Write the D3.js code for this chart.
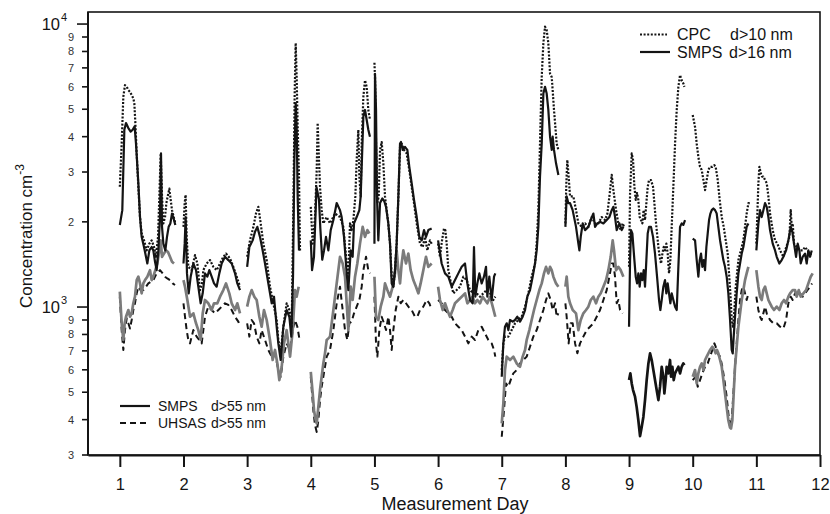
<!DOCTYPE html>
<html>
<head>
<meta charset="utf-8">
<script src="https://cdn.jsdelivr.net/npm/d3@7"></script>
<style>
  body { margin: 0; background: #fff; }
  svg { display: block; font-family: "Liberation Sans", Arial, Helvetica, sans-serif; }
</style>
</head>
<body>
<svg id="chart" width="830" height="514"></svg>
<script>
// Particle number concentration (cm^-3) against measurement day.
// Each entry is [day, concentration]; a new day starts a new line segment.

const cpc10 = [
  [1.000,2660],[1.029,3780],[1.055,5540],[1.081,6080],[1.108,6000],[1.134,5840],[1.160,5760],[1.186,5610],[1.212,5460],[1.228,5250],[1.244,4470],[1.265,3490],[1.291,2660],[1.317,2080],[1.343,1820],[1.380,1720],[1.422,1585],[1.464,1675],[1.500,1720],[1.537,1630],[1.568,1505],[1.600,1770],[1.621,2460],[1.642,3490],[1.663,2460],[1.684,1975],[1.710,2080],[1.731,2330],[1.752,2460],[1.778,2620],[1.799,2390],[1.820,2200],[1.846,2080],[1.872,1975],
  [2.000,1920],[2.019,2330],[2.034,2490],[2.050,1770],[2.076,1387],[2.129,1350],[2.181,1525],[2.218,1425],[2.260,1148],[2.291,1212],[2.312,1350],[2.364,1425],[2.417,1465],[2.469,1387],[2.521,1350],[2.574,1425],[2.626,1505],[2.668,1545],[2.731,1485],[2.783,1387],[2.836,1280],[2.888,1180],
  [3.000,1505],[3.045,1720],[3.098,1920],[3.139,2140],[3.176,2260],[3.213,1975],[3.255,1675],[3.307,1465],[3.359,1180],[3.412,1031],[3.464,900],[3.490,765],[3.527,686],[3.569,852],[3.621,1031],[3.663,976],[3.700,852],[3.726,2200],[3.747,5680],[3.763,8560],[3.778,6500],[3.794,4350],[3.815,2890],[3.831,1585],
  [4.000,2260],[4.030,1675],[4.066,2080],[4.093,3050],[4.108,4470],[4.129,3310],[4.145,2660],[4.171,2200],[4.197,1975],[4.250,2080],[4.302,1975],[4.381,2140],[4.459,2080],[4.511,1920],[4.564,1425],[4.590,1280],[4.616,1975],[4.642,1870],[4.669,2030],[4.700,2460],[4.721,3310],[4.747,4230],[4.763,2890],[4.784,2460],[4.800,3780],[4.826,5540],[4.852,6330],[4.878,6000],[4.904,4970],[4.930,4590],
  [5.000,7300],[5.009,6500],[5.025,3780],[5.046,2330],[5.067,2460],[5.088,3590],[5.114,3830],[5.140,3220],[5.166,2460],[5.192,2200],[5.218,1975],[5.245,1675],[5.271,1280],[5.297,1180],[5.323,1350],[5.349,1675],[5.376,2460],[5.402,3680],[5.428,3780],[5.465,3590],[5.506,3490],[5.548,3050],[5.585,2660],[5.622,2330],[5.664,1975],[5.716,1675],[5.758,1630],[5.794,1770],[5.831,1585],[5.873,1720],[5.899,1675],
  [6.000,1675],[6.030,1505],[6.062,1720],[6.093,1895],[6.114,1870],[6.135,1675],[6.161,1350],[6.214,1180],[6.240,1118],[6.292,1148],[6.344,1180],[6.397,1280],[6.449,1245],[6.502,1148],[6.554,1118],[6.606,1118],[6.659,1088],[6.711,1118],[6.763,1148],[6.816,1118],[6.868,1059],[6.899,1088],
  [7.000,599],[7.025,744],[7.051,786],[7.104,786],[7.156,829],[7.209,876],[7.261,900],[7.313,924],[7.366,1003],[7.418,1118],[7.470,1280],[7.523,1425],[7.549,1675],[7.575,2200],[7.601,3780],[7.628,6500],[7.654,8560],[7.680,9790],[7.706,9520],[7.732,8560],[7.759,6670],[7.785,6500],[7.800,5840],[7.821,4970],[7.842,4350],[7.863,3780],[7.890,3590],
  [8.000,1975],[8.015,2740],[8.030,3310],[8.051,2890],[8.073,2460],[8.125,2460],[8.167,2200],[8.204,1975],[8.256,1920],[8.309,1975],[8.361,1920],[8.413,2080],[8.466,1975],[8.518,1975],[8.570,2080],[8.623,2030],[8.660,2140],[8.691,2460],[8.728,2930],[8.754,2590],[8.796,2200],[8.832,1975],[8.869,1870],[8.900,1975],[8.921,1920],
  [9.000,1387],[9.016,2530],[9.042,3490],[9.063,3310],[9.084,2660],[9.105,2390],[9.126,2530],[9.146,2390],[9.167,2080],[9.188,2030],[9.209,1975],[9.230,2200],[9.251,2030],[9.272,2330],[9.293,2660],[9.314,2810],[9.345,2810],[9.377,2660],[9.398,2330],[9.419,2030],[9.440,1820],[9.461,1630],[9.482,1505],[9.503,1425],[9.524,1545],[9.545,1630],[9.565,1585],[9.586,1675],[9.607,1545],[9.628,1315],[9.649,1465],[9.670,1920],[9.696,2660],[9.723,3780],[9.749,4970],[9.775,6000],[9.801,6600],[9.827,6330],[9.853,6170],[9.869,6000],
  [10.000,4770],[10.037,4330],[10.063,3780],[10.089,3390],[10.115,3130],[10.142,3050],[10.168,2810],[10.194,2590],[10.220,2810],[10.246,3050],[10.272,3130],[10.309,3130],[10.341,3170],[10.361,3130],[10.393,2810],[10.424,2390],[10.456,2080],[10.487,1920],[10.519,1720],[10.550,1545],[10.571,1315],[10.592,1118],[10.613,900],[10.634,852],[10.655,976],[10.676,1180],[10.697,1315],[10.718,1465],[10.744,1545],[10.770,1630],[10.796,1720],[10.822,1920],[10.848,2140],[10.875,2330],[10.901,2330],
  [11.000,1675],[11.032,2740],[11.048,3130],[11.069,2970],[11.090,2890],[11.110,2890],[11.137,2810],[11.163,2740],[11.189,2460],[11.215,2140],[11.257,1870],[11.294,1720],[11.330,1675],[11.372,1585],[11.425,1505],[11.451,1585],[11.488,1675],[11.519,1770],[11.540,2200],[11.556,1920],[11.571,1975],[11.592,1675],[11.634,1630],[11.687,1585],[11.728,1585],[11.765,1630],[11.802,1585],[11.844,1545],[11.870,1505]
];

const smps16 = [
  [1.000,1950],[1.039,2200],[1.071,4230],[1.097,4470],[1.134,4290],[1.170,4170],[1.202,4230],[1.233,4350],[1.254,3780],[1.291,2740],[1.317,2080],[1.343,1770],[1.380,1630],[1.411,1505],[1.432,1425],[1.464,1585],[1.500,1630],[1.526,1585],[1.553,1445],[1.579,1350],[1.605,1585],[1.631,2080],[1.647,3490],[1.663,1920],[1.684,1675],[1.715,1585],[1.741,1770],[1.767,1920],[1.794,1975],[1.820,2140],[1.846,2050],[1.872,1950],
  [2.000,1425],[2.019,1675],[2.034,2080],[2.055,1315],[2.082,1118],[2.113,1280],[2.155,1425],[2.197,1350],[2.233,1180],[2.270,1031],[2.302,1118],[2.338,1315],[2.375,1280],[2.406,1350],[2.443,1280],[2.480,1212],[2.521,1180],[2.563,1315],[2.600,1425],[2.652,1505],[2.705,1465],[2.757,1425],[2.810,1315],[2.846,1212],[2.888,1148],
  [3.000,1387],[3.035,1630],[3.087,1720],[3.124,1845],[3.160,1920],[3.202,1770],[3.244,1585],[3.281,1425],[3.333,1212],[3.386,1031],[3.422,1088],[3.464,852],[3.490,744],[3.527,650],[3.569,852],[3.621,976],[3.663,924],[3.694,786],[3.721,1280],[3.742,3310],[3.763,5250],[3.778,4350],[3.794,2460],[3.815,1585],
  [4.000,1720],[4.020,1350],[4.050,1500],[4.090,2650],[4.129,2400],[4.150,1900],[4.180,1470],[4.208,1585],[4.239,1770],[4.276,1585],[4.313,1870],[4.355,2030],[4.407,2330],[4.459,2200],[4.485,2080],[4.522,1770],[4.564,1315],[4.590,1148],[4.627,1585],[4.658,1505],[4.679,1975],[4.721,2080],[4.763,2200],[4.784,2460],[4.805,3390],[4.826,4710],[4.852,4970],[4.878,4590],[4.904,4230],[4.930,4000],
  [5.000,1675],[5.009,6670],[5.025,4970],[5.040,2460],[5.061,1720],[5.088,2330],[5.124,2420],[5.156,2360],[5.182,2260],[5.218,1975],[5.245,1675],[5.271,1212],[5.297,1180],[5.323,1350],[5.349,1675],[5.376,2460],[5.402,3780],[5.417,3830],[5.444,3590],[5.480,3680],[5.517,3590],[5.548,3130],[5.585,2740],[5.622,2390],[5.664,2080],[5.705,1770],[5.742,1720],[5.779,1870],[5.810,1770],[5.847,1870],[5.899,1895],
  [6.000,1720],[6.056,1425],[6.109,1315],[6.161,1280],[6.214,1180],[6.266,1245],[6.318,1315],[6.371,1387],[6.423,1425],[6.460,1212],[6.502,1059],[6.543,1031],[6.564,1630],[6.585,1088],[6.617,1212],[6.648,1315],[6.685,1212],[6.721,1280],[6.753,1387],[6.774,1088],[6.805,1280],[6.842,1059],[6.879,1280],[6.899,1315],
  [7.000,567],[7.025,744],[7.051,852],[7.078,876],[7.104,829],[7.130,900],[7.172,888],[7.209,900],[7.245,924],[7.287,888],[7.329,924],[7.366,976],[7.402,1088],[7.444,1148],[7.486,1280],[7.523,1425],[7.549,1585],[7.575,1920],[7.601,2890],[7.628,3780],[7.654,5680],[7.680,6000],[7.706,5680],[7.732,4970],[7.759,4000],[7.785,3590],[7.800,4000],[7.821,3590],[7.853,3220],[7.890,2930],
  [8.000,1920],[8.020,2460],[8.046,2330],[8.073,2330],[8.114,2200],[8.167,1920],[8.204,1675],[8.220,1585],[8.241,1770],[8.272,1975],[8.309,1870],[8.361,1920],[8.398,2030],[8.440,2140],[8.466,1920],[8.502,1975],[8.544,2000],[8.597,1975],[8.649,2030],[8.691,2080],[8.728,2200],[8.754,2260],[8.780,2080],[8.806,1870],[8.848,1975],[8.885,1870],[8.911,1920],
  [9.000,852],[9.016,1465],[9.031,1870],[9.052,1820],[9.084,1465],[9.105,1280],[9.126,1212],[9.146,1315],[9.167,1180],[9.188,1315],[9.209,1245],[9.230,1350],[9.251,1180],[9.272,1465],[9.293,1820],[9.314,1920],[9.345,1920],[9.377,1770],[9.408,1545],[9.440,1280],[9.471,1059],[9.492,976],[9.513,1059],[9.539,1180],[9.565,1245],[9.586,1118],[9.607,1212],[9.628,1118],[9.649,1031],[9.670,1118],[9.696,1059],[9.723,1003],[9.749,976],[9.775,1387],[9.801,1920],[9.827,1975],[9.853,1950],[9.880,2030],
  [10.000,1745],[10.037,1720],[10.063,1465],[10.089,1280],[10.110,1465],[10.131,1545],[10.152,1387],[10.173,1465],[10.194,1350],[10.215,1630],[10.236,1820],[10.257,2030],[10.278,2140],[10.299,2200],[10.325,2230],[10.351,2200],[10.377,2140],[10.403,1920],[10.430,1720],[10.456,1585],[10.482,1465],[10.508,1387],[10.534,1280],[10.560,1118],[10.587,900],[10.613,705],[10.629,686],[10.644,786],[10.665,924],[10.691,1118],[10.718,1315],[10.744,1425],[10.770,1545],[10.796,1630],[10.822,1770],[10.848,1920],[10.875,1975],
  [11.000,1585],[11.032,1975],[11.058,2200],[11.084,2080],[11.110,2200],[11.137,2330],[11.163,2260],[11.189,2080],[11.215,1870],[11.257,1675],[11.294,1585],[11.320,1505],[11.362,1425],[11.398,1465],[11.425,1505],[11.467,1585],[11.503,1720],[11.540,1920],[11.561,1870],[11.592,1675],[11.624,1505],[11.650,1675],[11.676,1585],[11.697,1425],[11.728,1505],[11.765,1545],[11.791,1425],[11.817,1585],[11.844,1505],[11.870,1585]
];

const smps55 = [
  [1.000,1133],[1.029,876],[1.055,765],[1.076,876],[1.097,924],[1.134,976],[1.160,924],[1.186,950],[1.212,1031],[1.238,1088],[1.265,1245],[1.291,1280],[1.317,1212],[1.343,1118],[1.369,1212],[1.396,1245],[1.432,1280],[1.474,1350],[1.500,1245],[1.526,1280],[1.558,1350],[1.589,1425],[1.621,1585],[1.642,1720],[1.663,1505],[1.694,1545],[1.726,1585],[1.757,1565],[1.788,1505],[1.820,1445],[1.851,1425],
  [2.000,1245],[2.024,1180],[2.061,1059],[2.103,924],[2.155,950],[2.197,876],[2.233,829],[2.270,765],[2.302,950],[2.338,1059],[2.390,1031],[2.443,976],[2.480,1031],[2.532,1031],[2.574,1088],[2.626,1148],[2.668,1212],[2.720,1118],[2.757,1031],[2.810,976],[2.846,1031],[2.888,950],
  [3.000,1003],[3.035,1088],[3.071,1148],[3.113,1088],[3.150,1059],[3.192,924],[3.228,852],[3.265,976],[3.307,900],[3.359,765],[3.401,650],[3.438,705],[3.475,632],[3.506,552],[3.543,615],[3.579,744],[3.621,829],[3.674,668],[3.716,829],[3.752,1148],[3.778,1088],[3.810,1180],
  [4.000,590],[4.030,495],[4.051,432],[4.072,403],[4.093,388],[4.119,444],[4.145,509],[4.171,567],[4.197,632],[4.223,686],[4.250,765],[4.276,775],[4.302,786],[4.328,876],[4.355,976],[4.381,1088],[4.407,1212],[4.433,1350],[4.459,1505],[4.501,1425],[4.538,1280],[4.564,1031],[4.590,829],[4.627,1180],[4.658,1059],[4.695,1280],[4.731,1425],[4.773,1675],[4.815,1920],[4.852,1770],[4.889,1870],[4.920,1820],
  [5.000,1280],[5.025,924],[5.061,900],[5.098,1003],[5.140,1088],[5.166,1212],[5.203,1148],[5.245,1088],[5.287,1180],[5.323,1315],[5.349,1585],[5.376,1350],[5.402,1212],[5.428,1425],[5.454,1585],[5.496,1425],[5.533,1545],[5.569,1350],[5.611,1245],[5.653,1180],[5.690,1118],[5.726,1212],[5.768,1350],[5.810,1505],[5.847,1387],[5.899,1425],
  [6.000,1180],[6.030,1059],[6.072,976],[6.109,1031],[6.145,976],[6.187,924],[6.229,976],[6.266,1031],[6.318,1059],[6.371,1088],[6.423,1118],[6.460,1031],[6.502,1059],[6.543,1088],[6.580,1031],[6.617,1059],[6.659,1031],[6.700,1088],[6.737,1059],[6.774,1031],[6.816,1088],[6.858,1003],[6.899,924],
  [7.000,388],[7.025,456],[7.051,599],[7.078,668],[7.130,650],[7.182,668],[7.235,632],[7.287,615],[7.329,668],[7.366,705],[7.392,765],[7.434,829],[7.470,900],[7.507,976],[7.549,1059],[7.591,1148],[7.628,1212],[7.664,1315],[7.696,1387],[7.732,1315],[7.759,1387],[7.785,1350],[7.811,1280],[7.853,1212],[7.890,1180],
  [8.000,1180],[8.020,1280],[8.046,1088],[8.073,1031],[8.115,976],[8.167,950],[8.204,829],[8.241,900],[8.282,950],[8.324,976],[8.361,1003],[8.398,1059],[8.440,1088],[8.481,1031],[8.518,1088],[8.555,1118],[8.597,1180],[8.639,1245],[8.675,1350],[8.712,1505],[8.743,1720],[8.764,1585],[8.796,1350],[8.832,1387],[8.869,1350],[8.911,1280],
  [9.000,552],[9.021,583],[9.042,537],[9.063,509],[9.094,482],[9.120,443],[9.146,398],[9.173,350],[9.199,377],[9.225,409],[9.251,469],[9.277,552],[9.304,632],[9.330,686],[9.356,650],[9.382,599],[9.408,552],[9.434,509],[9.461,469],[9.487,523],[9.513,615],[9.539,567],[9.555,495],[9.576,552],[9.591,615],[9.618,583],[9.644,650],[9.660,567],[9.681,615],[9.702,552],[9.723,583],[9.749,599],[9.775,615],[9.801,583],[9.827,615],[9.853,632],[9.869,623],
  [10.000,567],[10.037,599],[10.063,537],[10.089,583],[10.115,615],[10.142,632],[10.168,599],[10.194,650],[10.220,668],[10.246,686],[10.272,705],[10.309,724],[10.341,705],[10.361,686],[10.382,705],[10.403,686],[10.430,650],[10.456,615],[10.482,552],[10.508,495],[10.534,443],[10.560,398],[10.587,375],[10.602,372],[10.623,398],[10.644,495],[10.665,615],[10.691,724],[10.718,852],[10.744,950],[10.770,1059],[10.796,1148],[10.822,1245],[10.848,1315],[10.875,1387],
  [11.000,1350],[11.032,1180],[11.058,1088],[11.084,1059],[11.110,1148],[11.137,1180],[11.163,1118],[11.189,1059],[11.215,1031],[11.241,1003],[11.278,976],[11.320,1003],[11.362,976],[11.398,1031],[11.435,1059],[11.467,1031],[11.503,1088],[11.530,1118],[11.571,1148],[11.608,1148],[11.634,1088],[11.666,1148],[11.697,1088],[11.739,1118],[11.781,1148],[11.817,1212],[11.854,1280],[11.885,1315]
];

const uhsas55 = [
  [1.000,1088],[1.029,829],[1.055,705],[1.081,829],[1.108,912],[1.134,876],[1.160,840],[1.186,900],[1.212,976],[1.238,1031],[1.265,1118],[1.291,1180],[1.327,1148],[1.369,1148],[1.411,1180],[1.448,1212],[1.485,1228],[1.526,1245],[1.579,1315],[1.631,1350],[1.673,1315],[1.710,1280],[1.746,1262],[1.788,1245],[1.830,1212],[1.867,1196],
  [2.000,1031],[2.024,924],[2.050,829],[2.076,765],[2.103,744],[2.129,786],[2.155,829],[2.207,786],[2.249,765],[2.286,744],[2.312,829],[2.338,924],[2.390,1003],[2.443,976],[2.495,950],[2.548,976],[2.600,1003],[2.652,1031],[2.705,1017],[2.757,976],[2.810,924],[2.862,888],[2.888,852],
  [3.000,876],[3.035,786],[3.071,900],[3.108,876],[3.150,786],[3.192,744],[3.228,829],[3.281,765],[3.333,705],[3.386,668],[3.438,686],[3.490,599],[3.527,567],[3.569,668],[3.621,744],[3.674,705],[3.716,829],[3.752,900],[3.789,852],[3.820,775],
  [4.000,567],[4.040,432],[4.066,383],[4.093,362],[4.119,398],[4.145,469],[4.171,523],[4.197,567],[4.223,615],[4.250,668],[4.276,686],[4.302,705],[4.355,829],[4.407,1031],[4.459,1180],[4.501,976],[4.538,829],[4.574,765],[4.606,876],[4.642,888],[4.679,950],[4.721,1003],[4.763,1059],[4.800,1180],[4.826,1350],[4.868,1505],[4.904,1350],[4.930,1315],
  [5.000,1088],[5.025,744],[5.046,668],[5.077,829],[5.114,924],[5.150,876],[5.182,829],[5.218,924],[5.245,829],[5.271,705],[5.297,829],[5.334,976],[5.376,1088],[5.412,1031],[5.454,1059],[5.496,1031],[5.533,1003],[5.585,976],[5.637,924],[5.674,924],[5.716,976],[5.768,1003],[5.821,1059],[5.863,1031],[5.899,976],
  [6.000,1059],[6.056,1031],[6.109,976],[6.161,950],[6.214,924],[6.266,876],[6.318,852],[6.371,829],[6.423,786],[6.475,744],[6.528,786],[6.580,765],[6.632,829],[6.685,852],[6.737,807],[6.790,765],[6.842,744],[6.879,705],[6.899,668],
  [7.000,348],[7.035,432],[7.067,537],[7.104,523],[7.140,552],[7.182,583],[7.235,599],[7.287,632],[7.339,650],[7.392,668],[7.444,724],[7.496,786],[7.549,829],[7.601,900],[7.654,976],[7.696,1059],[7.732,1118],[7.769,1059],[7.800,976],[7.837,1031],[7.863,924],[7.890,950],
  [8.000,1031],[8.020,924],[8.051,744],[8.083,876],[8.115,876],[8.152,744],[8.188,686],[8.230,744],[8.282,786],[8.335,829],[8.387,852],[8.440,876],[8.492,924],[8.544,976],[8.597,1059],[8.649,1148],[8.691,1280],[8.728,1425],[8.754,1425],[8.780,1280],[8.806,1031],[8.832,1059],[8.859,976],[8.900,950],
  [10.000,552],[10.047,567],[10.079,523],[10.115,552],[10.152,583],[10.194,615],[10.236,632],[10.272,668],[10.309,705],[10.341,744],[10.361,724],[10.393,686],[10.430,668],[10.466,615],[10.498,552],[10.534,482],[10.560,421],[10.587,377],[10.613,398],[10.639,495],[10.665,615],[10.691,744],[10.718,900],[10.744,1059],[10.770,1148],[10.796,1180],[10.822,1118],[10.848,1059],[10.875,1118],
  [11.000,1088],[11.032,976],[11.058,924],[11.084,900],[11.110,950],[11.137,1003],[11.163,950],[11.215,900],[11.268,876],[11.320,876],[11.372,852],[11.425,840],[11.467,900],[11.503,1031],[11.540,1088],[11.571,1059],[11.608,1118],[11.644,1088],[11.687,1118],[11.728,1088],[11.765,1118],[11.802,1148],[11.844,1180],[11.875,1212]
];

const dayTicks = [1, 2, 3, 4, 5, 6, 7, 8, 9, 10, 11, 12];
const concTicks = [300, 400, 500, 600, 700, 800, 900, 1000, 2000, 3000, 4000, 5000, 6000, 7000, 8000, 9000, 10000];
const legendTop = [["CPC", "d>10 nm"], ["SMPS", "d>16 nm"]];
const legendBottom = [["SMPS", "d>55 nm"], ["UHSAS", "d>55 nm"]];

// ---- layout ----
const box = { left: 88, right: 820, top: 12, bottom: 455 };
const x = d3.scaleLinear().domain([0.5, 12]).range([box.left, box.right]);
const y = d3.scaleLog().domain([300, 11030]).range([box.bottom, box.top]);

const svg = d3.select("#chart");
const ink = "#141414";

svg.append("defs").append("clipPath").attr("id", "plotClip")
  .append("rect").attr("x", box.left).attr("y", box.top)
  .attr("width", box.right - box.left).attr("height", box.bottom - box.top);

// ---- series ----
const line = d3.line().x(d => x(d[0])).y(d => y(d[1]));
const splitDays = pts => d3.groups(pts, p => Math.floor(p[0] + 1e-6));

const styles = [
  { data: uhsas55, stroke: ink, width: 2.0, dash: "6,4" },
  { data: smps55, stroke: "#7b7b7b", width: 2.7, dash: null, blackDay: 9 },
  { data: cpc10, stroke: ink, width: 2.2, dash: "2,1.6" },
  { data: smps16, stroke: ink, width: 2.2, dash: null }
];

const plotG = svg.append("g").attr("clip-path", "url(#plotClip)");
styles.forEach(s => {
  splitDays(s.data).forEach(([day, pts]) => {
    plotG.append("path")
      .attr("d", line(pts))
      .attr("fill", "none")
      .attr("stroke", s.blackDay === day ? ink : s.stroke)
      .attr("stroke-width", s.width)
      .attr("stroke-linejoin", "round")
      .attr("stroke-dasharray", s.dash);
  });
});

// ---- frame ----
svg.append("rect")
  .attr("x", box.left).attr("y", box.top)
  .attr("width", box.right - box.left).attr("height", box.bottom - box.top)
  .attr("fill", "none").attr("stroke", ink).attr("stroke-width", 1.6);

// ---- x axis ----
const xAxis = d3.axisBottom(x).tickValues(dayTicks).tickSize(12).tickSizeOuter(0).tickPadding(11)
  .tickFormat(d3.format("d"));
const gx = svg.append("g").attr("transform", `translate(0,${box.bottom})`).call(xAxis);
gx.select(".domain").attr("stroke", ink).attr("stroke-width", 2);
gx.selectAll(".tick line").attr("stroke", ink).attr("stroke-width", 2);
gx.selectAll(".tick text").attr("fill", ink).attr("font-size", 16.5)
  .attr("font-family", "Liberation Sans, Arial, sans-serif");

svg.append("text")
  .attr("x", (box.left + box.right) / 2 + 1).attr("y", 510)
  .attr("text-anchor", "middle").attr("font-size", 18).attr("fill", ink)
  .text("Measurement Day");

// ---- y axis (log, labelled decades and mantissas) ----
const gy = svg.append("g");
gy.append("line").attr("x1", box.left).attr("x2", box.left)
  .attr("y1", box.top).attr("y2", box.bottom).attr("stroke", ink).attr("stroke-width", 2);
concTicks.forEach(v => {
  const exp = Math.floor(Math.log10(v) + 1e-9);
  const mant = Math.round(v / Math.pow(10, exp));
  const major = mant === 1;
  const yy = y(v);
  gy.append("line")
    .attr("x1", box.left - (major ? 11 : 6)).attr("x2", box.left)
    .attr("y1", yy).attr("y2", yy)
    .attr("stroke", ink).attr("stroke-width", 1.6);
  if (major) {
    gy.append("text").attr("x", 60).attr("y", yy + 6)
      .attr("text-anchor", "end").attr("font-size", 16.5).attr("fill", ink).text("10");
    gy.append("text").attr("x", 61).attr("y", yy - 3)
      .attr("font-size", 11).attr("fill", ink).text(String(exp));
  } else {
    gy.append("text").attr("x", 74).attr("y", yy + 4)
      .attr("text-anchor", "end").attr("font-size", 11).attr("fill", "#333").text(String(mant));
  }
});

const yTitle = svg.append("text")
  .attr("transform", "translate(32,236) rotate(-90)")
  .attr("text-anchor", "middle").attr("font-size", 17).attr("fill", ink);
yTitle.append("tspan").text("Concentration cm");
yTitle.append("tspan").attr("font-size", 12).attr("dy", -8).text("-3");

// ---- legends ----
function legendRow(g, x0, x1, yy, dash, textX, sizeX, label, size, fontSize) {
  g.append("line").attr("x1", x0).attr("x2", x1).attr("y1", yy).attr("y2", yy)
    .attr("stroke", ink).attr("stroke-width", 2.2).attr("stroke-dasharray", dash);
  g.append("text").attr("x", textX).attr("y", yy + fontSize * 0.36)
    .attr("font-size", fontSize).attr("fill", ink).text(label);
  g.append("text").attr("x", sizeX).attr("y", yy + fontSize * 0.36)
    .attr("font-size", fontSize).attr("fill", ink).text(size);
}
const lg = svg.append("g");
legendRow(lg, 640, 667, 34.5, "2,1.6", 677, 730, legendTop[0][0], legendTop[0][1], 16);
legendRow(lg, 640, 670, 52, null, 677, 729, legendTop[1][0], legendTop[1][1], 16);
legendRow(lg, 120, 150, 406, null, 158, 211, legendBottom[0][0], legendBottom[0][1], 14);
legendRow(lg, 120, 150, 423, "6,4", 158, 211, legendBottom[1][0], legendBottom[1][1], 14);
</script>
</body>
</html>
